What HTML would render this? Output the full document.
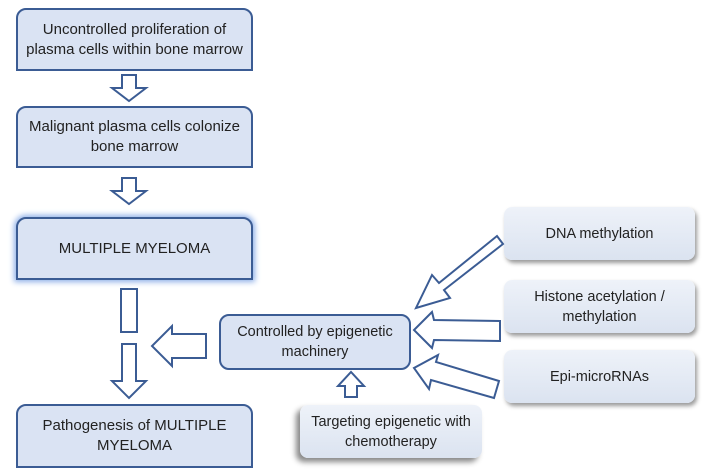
<!DOCTYPE html>
<html><head><style>
body{margin:0;width:703px;height:474px;background:#fff;position:relative;overflow:hidden;font-family:"Liberation Sans",sans-serif;}
.b{position:absolute;box-sizing:border-box;background:#dae3f3;border:2px solid #3b5c94;border-radius:10px 10px 0 0;display:flex;align-items:center;justify-content:center;text-align:center;font-size:15px;color:#222;line-height:20px;}
.g{position:absolute;box-sizing:border-box;background:linear-gradient(#eef2f9,#dbe3f0);border-radius:8px;display:flex;align-items:center;justify-content:center;text-align:center;font-size:14.5px;color:#222;line-height:20px;box-shadow:2px 3px 4px #999;}
svg{position:absolute;left:0;top:0}
</style></head><body>
<div class="b" style="left:16px;top:8px;width:237px;height:63px">Uncontrolled proliferation of<br>plasma cells within bone marrow</div>
<div class="b" style="left:16px;top:106px;width:237px;height:62px">Malignant plasma cells colonize<br>bone marrow</div>
<div class="b" style="left:16px;top:217px;width:237px;height:63px;box-shadow:0 0 6px 2px #8fb0e8">MULTIPLE MYELOMA</div>
<div class="b" style="left:16px;top:404px;width:237px;height:64px">Pathogenesis of MULTIPLE<br>MYELOMA</div>
<div class="b" style="left:219px;top:314px;width:192px;height:56px;border-radius:10px;font-size:14.5px">Controlled by epigenetic<br>machinery</div>
<div class="g" style="left:504px;top:207px;width:191px;height:53px">DNA methylation</div>
<div class="g" style="left:504px;top:280px;width:191px;height:53px">Histone acetylation /<br>methylation</div>
<div class="g" style="left:504px;top:350px;width:191px;height:53px">Epi-microRNAs</div>
<div class="g" style="left:300px;top:405px;width:182px;height:53px;box-shadow:-4px 4px 6px #888">Targeting epigenetic with<br>chemotherapy</div>
<svg width="703" height="474" fill="#fff" stroke="#3b5c94" stroke-width="2" stroke-linejoin="miter">
<polygon points="122,75 136,75 136,88 146,88 129,101 112,88 122,88"/>
<polygon points="122,178 136,178 136,191 146,191 129,204 112,191 122,191"/>
<rect x="121" y="289" width="16" height="43"/>
<polygon points="122,344 136,344 136,381 146,381 129,398 112,381 122,381"/>
<polygon points="206,334 172,334 172,326 152,346 172,366 172,358 206,358"/>
<polygon points="345,397 357,397 357,386 364,386 351,372 338,386 345,386"/>
<polygon points="497,236 439,283 432,275 416,308 450,298 444,290 503,244"/>
<polygon points="500,321 434,320 432,312 414,330 432,348 434,340 500,341"/>
<polygon points="499,381 436,362 438,355 414,368 429,389 431,380 494,398"/>
</svg>
</body></html>
